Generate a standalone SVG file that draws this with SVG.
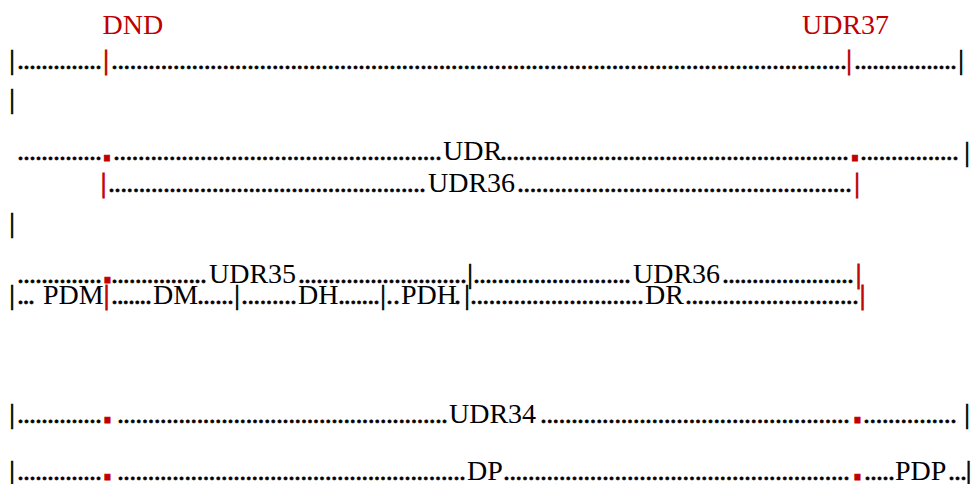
<svg xmlns="http://www.w3.org/2000/svg" width="972" height="484" viewBox="0 0 972 484" font-family="'Liberation Serif', 'Times New Roman', serif" font-size="28">
<style>
text { font-family: "Liberation Serif", "Times New Roman", serif; font-size: 28px; fill: #000; }
.d { stroke: #000; stroke-width: 0.5; }
.r { fill: #c00000; }
.p { text-anchor: middle; stroke: #000; stroke-width: 0.7; }
.p.r { stroke: #c00000; stroke-width: 0.9; }
.sq { font-family: "DejaVu Sans", sans-serif; font-size: 30px; fill: #c00000; font-weight: bold; stroke: #c00000; stroke-width: 0.8; text-anchor: middle; }
</style>
<rect width="972" height="484" fill="#fff"/>
<g id="row0">
<text class="r" x="102.5" y="34">DND</text>
<text class="r" x="802" y="34">UDR37</text>
</g>
<g id="row1">
<text class="p" x="12" y="69">|</text>
<text class="d" x="17" y="69" textLength="85" lengthAdjust="spacing">..............</text>
<text class="p r" x="106" y="69">|</text>
<text class="d" x="111" y="69" textLength="736" lengthAdjust="spacing">.......................................................................................................................</text>
<text class="p r" x="849" y="69">|</text>
<text class="d" x="854" y="69" textLength="103" lengthAdjust="spacing">.................</text>
<text class="p" x="961" y="69">|</text>
</g>
<g id="row2">
<text class="p" x="12" y="108">|</text>
</g>
<g id="row3">
<text class="d" x="17" y="160" textLength="85" lengthAdjust="spacing">..............</text>
<text class="sq" x="107" y="161">.</text>
<text class="d" x="113" y="160" textLength="329" lengthAdjust="spacing">.....................................................</text>
<text x="443" y="160">UDR</text>
<text class="d" x="500" y="160" textLength="349" lengthAdjust="spacing">.........................................................</text>
<text class="sq" x="855" y="161">.</text>
<text class="d" x="860" y="160" textLength="99" lengthAdjust="spacing">................</text>
<text class="p" x="967" y="161">|</text>
</g>
<g id="row4">
<text class="p r" x="103.5" y="192">|</text>
<text class="d" x="108" y="192" textLength="318" lengthAdjust="spacing">....................................................</text>
<text x="428" y="192">UDR36</text>
<text class="d" x="517" y="192" textLength="335" lengthAdjust="spacing">......................................................</text>
<text class="p r" x="857" y="192">|</text>
</g>
<g id="row5">
<text class="p" x="12" y="232">|</text>
</g>
<g id="row6">
<text class="d" x="17" y="283" textLength="85" lengthAdjust="spacing">..............</text>
<text class="sq" x="107.5" y="283">.</text>
<text class="d" x="111" y="283" textLength="96" lengthAdjust="spacing">................</text>
<text x="209" y="283">UDR35</text>
<text class="d" x="298" y="283" textLength="169" lengthAdjust="spacing">............................</text>
<text class="p" x="470" y="283">|</text>
<text class="d" x="473" y="283" textLength="158" lengthAdjust="spacing">..........................</text>
<text x="633" y="283">UDR36</text>
<text class="d" x="722" y="283" textLength="132" lengthAdjust="spacing">......................</text>
<text class="p r" x="858.5" y="283">|</text>
</g>
<g id="row7">
<text class="p" x="12" y="304">|</text>
<text class="d" x="17" y="304" textLength="18" lengthAdjust="spacing">...</text>
<text x="43" y="304">PDM</text>
<text class="p r" x="106.5" y="304">|</text>
<text class="d" x="111" y="304" textLength="41" lengthAdjust="spacing">.......</text>
<text x="153" y="304">DM</text>
<text class="d" x="197" y="304" textLength="37" lengthAdjust="spacing">......</text>
<text class="p" x="237" y="304">|</text>
<text class="d" x="241" y="304" textLength="56" lengthAdjust="spacing">.........</text>
<text x="298" y="304">DH</text>
<text class="d" x="338" y="304" textLength="42" lengthAdjust="spacing">.......</text>
<text class="p" x="383" y="304">|</text>
<text class="d" x="386" y="304" textLength="14" lengthAdjust="spacing">..</text>
<text x="401" y="304">PDH</text>
<text class="d" x="454" y="304">.</text>
<text class="p" x="467" y="304">|</text>
<text class="d" x="470" y="304" textLength="174" lengthAdjust="spacing">............................</text>
<text x="645" y="304">DR</text>
<text class="d" x="685" y="304" textLength="174" lengthAdjust="spacing">............................</text>
<text class="p r" x="862.5" y="304">|</text>
</g>
<g id="row8">
<text class="p" x="12" y="423">|</text>
<text class="d" x="17" y="423" textLength="85" lengthAdjust="spacing">..............</text>
<text class="sq" x="107.5" y="423">.</text>
<text class="d" x="117" y="423" textLength="331" lengthAdjust="spacing">......................................................</text>
<text x="449" y="423">UDR34</text>
<text class="d" x="540" y="423" textLength="310" lengthAdjust="spacing">..................................................</text>
<text class="sq" x="857.5" y="423">.</text>
<text class="d" x="863" y="423" textLength="94" lengthAdjust="spacing">...............</text>
<text class="p" x="967" y="423">|</text>
</g>
<g id="row9">
<text class="p" x="12" y="480">|</text>
<text class="d" x="17" y="480" textLength="85" lengthAdjust="spacing">..............</text>
<text class="sq" x="107.5" y="480">.</text>
<text class="d" x="117" y="480" textLength="349" lengthAdjust="spacing">.........................................................</text>
<text x="467" y="480">DP</text>
<text class="d" x="503" y="480" textLength="347" lengthAdjust="spacing">........................................................</text>
<text class="sq" x="857.5" y="480">.</text>
<text class="d" x="864" y="480" textLength="31" lengthAdjust="spacing">.....</text>
<text x="895" y="480">PDP</text>
<text class="d" x="948" y="480" textLength="19" lengthAdjust="spacing">...</text>
<text class="p" x="968.5" y="480">|</text>
</g>
<g id="connectors"></g>
</svg>
